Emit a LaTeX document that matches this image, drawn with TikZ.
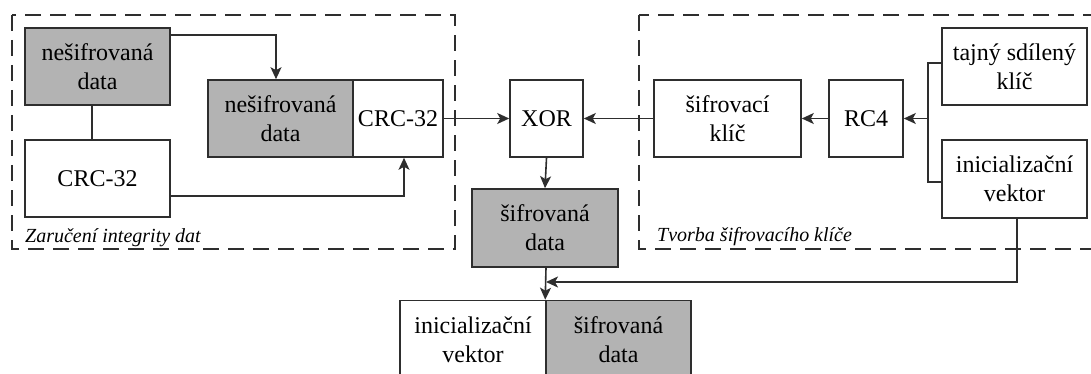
\documentclass[tikz,border=0pt]{standalone}
\usepackage{fontspec}
\setmainfont{Liberation Serif}
\usetikzlibrary{arrows.meta}
\definecolor{edge}{HTML}{2E2E2E}
\definecolor{shade}{HTML}{B3B3B3}
\tikzset{
  box/.style={draw=edge, line width=1.6pt, fill=white, align=center,
    inner sep=0pt, font=\fontsize{24}{29}\selectfont},
  darkbox/.style={box, fill=shade},
  link/.style={draw=edge, line width=1.6pt},
  arr/.style={link, -{Stealth[length=12pt,width=11pt,inset=3pt]}},
  region/.style={draw=edge, line width=1.4pt, dash pattern=on 16pt off 9pt},
  caption/.style={anchor=base west, inner sep=0pt, font=\fontsize{20}{24}\selectfont\itshape}
}
\begin{document}
\begin{tikzpicture}[x=1pt,y=-1pt]
\useasboundingbox (0,0) rectangle (1091,374);
\clip (0,0) rectangle (1091,374);

% grouping frames
\draw[region] (12,15) rectangle (455,249);
\draw[region] (639,15) rectangle (1110,249);
\node[caption] (capA) at (25,242) {Zaručení integrity dat};
\node[caption] (capB) at (657,241) {Tvorba šifrovacího klíče};

% integrity part
\node[darkbox, minimum width=145pt, minimum height=77pt] (nd1) at (97.5,66.5) {nešifrovaná\\data};
\node[box, minimum width=145pt, minimum height=77pt] (crc1) at (97.5,178.5) {CRC-32};
\node[darkbox, minimum width=145pt, minimum height=77pt] (nd2) at (280.5,118.5) {nešifrovaná\\data};
\node[box, minimum width=90pt, minimum height=77pt] (crc2) at (398,118.5) {CRC-32};

% XOR and output
\node[box, minimum width=73pt, minimum height=77pt] (xor) at (546.5,118.5) {XOR};
\node[darkbox, minimum width=146pt, minimum height=78pt] (sd) at (545,228) {šifrovaná\\data};

% key generation
\node[box, minimum width=147pt, minimum height=77pt] (sk) at (727.5,118.5) {šifrovací\\klíč};
\node[box, minimum width=74pt, minimum height=77pt] (rc4) at (866,118.5) {RC4};
\node[box, minimum width=145pt, minimum height=77pt] (tk) at (1014.5,66.5) {tajný sdílený\\klíč};
\node[box, minimum width=145pt, minimum height=78pt] (iv) at (1014.5,179) {inicializační\\vektor};

% transmitted frame
\node[box, minimum width=146pt, minimum height=78pt] (biv) at (473,339.5) {inicializační\\vektor};
\node[darkbox, minimum width=145pt, minimum height=78pt] (bsd) at (618.5,339.5) {šifrovaná\\data};

\coordinate (j) at (928,118.5);
\coordinate (m) at (546,282);

% connectors
\draw[arr] ([yshift=31.5pt]nd1.east) -| ([xshift=-4.5pt]nd2.north);
\draw[link] ([xshift=-5.5pt]nd1.south) -- ([xshift=-5.5pt]crc1.north);
\draw[arr] ([yshift=-17.5pt]crc1.east) -| ([xshift=6pt]crc2.south);
\draw[arr] (crc2.east) -- (xor.west);
\draw[arr] (sk.west) -- (xor.east);
\draw[arr] (rc4.west) -- (sk.east);
\draw[link] ([yshift=3.5pt]tk.west) -| (j) |- ([yshift=-3pt]iv.west);
\draw[arr] (j) -- (rc4.east);
\draw[arr] (xor.south) -- (sd.north);
\draw[arr] ([xshift=1pt]sd.south) -- (bsd.north west);
\draw[arr] ([xshift=2.5pt]iv.south) |- (m);
\end{tikzpicture}
\end{document}
